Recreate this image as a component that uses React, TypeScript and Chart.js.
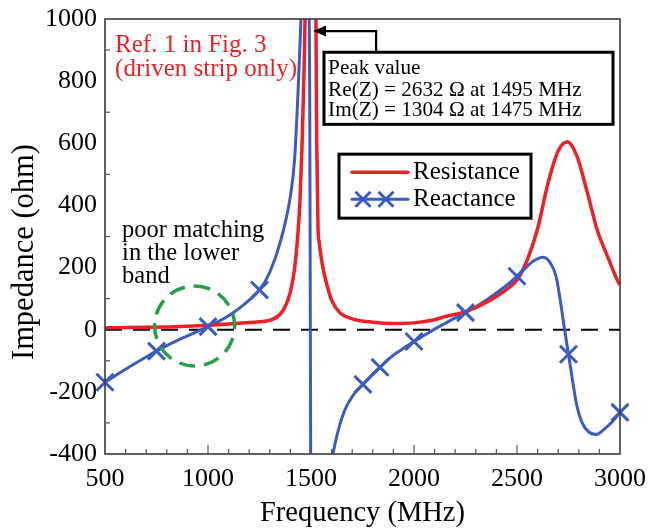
import React, { useEffect, useRef } from 'react';
import { Chart, registerables } from 'chart.js';

Chart.register(...registerables);

const FONT = '"Liberation Serif", "Times New Roman", serif';
Chart.defaults.font.family = FONT;
const RED = '#ee1f26';
const BLUE = '#3a5cc0';
const GREEN = '#26a048';

// Axis ticks
const xTickValues = [500, 1000, 1500, 2000, 2500, 3000];
const yTickValues = [-400, -200, 0, 200, 400, 600, 800, 1000];

// Resistance (red)
const resFreq = [500, 600, 700, 800, 900, 1000, 1100, 1200, 1250, 1300, 1350, 1375, 1400, 1420, 1437, 1447, 1456, 1463, 1471, 1483, 1495, 1508, 1518, 1524, 1528, 1534, 1540, 1555, 1575, 1600, 1640, 1700, 1800, 1900, 2000, 2100, 2150, 2250, 2350, 2450, 2500, 2550, 2600, 2650, 2700, 2745, 2790, 2840, 2890, 2940, 2990, 3000];
const resVal = [6, 7, 8, 9, 11, 14, 18, 23, 26, 30, 50, 75, 122, 195, 313, 421, 582, 750, 1000, 1800, 2632, 1900, 1300, 1000, 600, 330, 280, 210, 150, 95, 55, 35, 24, 20, 22, 32, 42, 58, 88, 130, 160, 225, 325, 470, 575, 605, 560, 445, 320, 235, 155, 145];

// Reactance (blue) curve
const reaFreq = [500, 550, 600, 650, 700, 750, 800, 850, 900, 950, 1000, 1050, 1100, 1150, 1200, 1250, 1300, 1350, 1400, 1420, 1437, 1447, 1455, 1475, 1488, 1494, 1498, 1502, 1515, 1540, 1570, 1600, 1630, 1660, 1700, 1752, 1800, 1835, 1900, 1950, 2000, 2050, 2100, 2150, 2200, 2250, 2300, 2350, 2400, 2450, 2500, 2550, 2590, 2625, 2660, 2690, 2710, 2730, 2750, 2770, 2790, 2815, 2850, 2885, 2920, 2960, 3000];
const reaVal = [-169, -148, -127, -107, -88, -69, -51, -35, -20, -5, 10, 26, 45, 68, 95, 128, 185, 280, 430, 545, 764, 925, 1060, 1304, 1150, 700, -300, -1500, -1350, -950, -640, -430, -330, -265, -215, -176, -143, -121, -82, -60, -38, -18, 2, 20, 38, 55, 74, 95, 118, 143, 172, 205, 225, 233, 217, 170, 95, 5, -79, -165, -243, -298, -330, -337, -322, -298, -266];

// Reactance markers
const markerFreq = [500, 750, 1000, 1250, 1752, 1835, 2000, 2250, 2500, 2750, 3000];
const markerVal = [-169, -69, 10, 128, -176, -121, -38, 55, 172, -79, -266];

// Zero reference line
const zeroFreq = [500, 3000];
const zeroVal = [0, 0];

const xTitle = 'Frequency (MHz)';
const yTitle = 'Impedance (ohm)';
const refText = ['Ref. 1 in Fig. 3', '(driven strip only)'];
const peakText = ['Peak value', 'Re(Z) = 2632 \u03A9 at 1495 MHz', 'Im(Z) = 1304 \u03A9 at 1475 MHz'];
const noteText = ['poor matching', 'in the lower', 'band'];

const toXY = (xs: number[], ys: number[]) => xs.map((x, i) => ({ x, y: ys[i] }));

function drawX(ctx: CanvasRenderingContext2D, x: number, y: number, r: number) {
  ctx.beginPath();
  ctx.moveTo(x - r, y - r);
  ctx.lineTo(x + r, y + r);
  ctx.moveTo(x - r, y + r);
  ctx.lineTo(x + r, y - r);
  ctx.stroke();
}

const overlayPlugin = {
  id: 'overlay',
  afterDatasetsDraw(chart: any) {
    const { ctx, chartArea: a, scales } = chart;
    const xs = scales.x;
    const ys = scales.y;
    const px = (f: number) => xs.getPixelForValue(f);
    const py = (v: number) => ys.getPixelForValue(v);
    ctx.save();

    // frame
    ctx.strokeStyle = '#3a3a3a';
    ctx.lineWidth = 1.6;
    ctx.strokeRect(a.left, a.top, a.right - a.left, a.bottom - a.top);

    // inner ticks
    ctx.lineWidth = 1.2;
    ctx.strokeStyle = '#555';
    for (let f = 600; f < 3000; f += 100) {
      const len = f % 500 === 0 ? 9 : 5;
      const x = px(f);
      ctx.beginPath();
      ctx.moveTo(x, a.bottom);
      ctx.lineTo(x, a.bottom - len);
      ctx.stroke();
    }
    for (let v = -300; v < 1000; v += 200) {
      const y = py(v);
      ctx.beginPath();
      ctx.moveTo(a.left, y);
      ctx.lineTo(a.left + 5, y);
      ctx.stroke();
    }

    // y axis title
    ctx.save();
    ctx.fillStyle = '#000';
    ctx.font = `30.5px ${FONT}`;
    ctx.textAlign = 'center';
    ctx.textBaseline = 'middle';
    ctx.translate(25, py(250));
    ctx.rotate(-Math.PI / 2);
    ctx.fillText(yTitle, 0, 0);
    ctx.restore();

    // green dashed circle
    ctx.strokeStyle = GREEN;
    ctx.lineWidth = 3.5;
    ctx.setLineDash([16, 9]);
    ctx.beginPath();
    ctx.arc(px(935), py(12), 40, -Math.PI / 2, Math.PI * 1.5);
    ctx.stroke();
    ctx.setLineDash([]);

    // red label
    ctx.fillStyle = RED;
    ctx.font = `25px ${FONT}`;
    ctx.textBaseline = 'alphabetic';
    ctx.textAlign = 'left';
    ctx.fillText(refText[0], px(549), py(893));
    ctx.fillText(refText[1], px(549), py(816));

    // note
    ctx.fillStyle = '#000';
    ctx.font = `24.5px ${FONT}`;
    ctx.fillText(noteText[0], px(583), py(298));
    ctx.fillText(noteText[1], px(583), py(224));
    ctx.fillText(noteText[2], px(583), py(150));

    // peak box
    const bx1 = px(1563), bx2 = px(2966), by1 = py(893), by2 = py(661);
    ctx.fillStyle = '#fff';
    ctx.fillRect(bx1, by1, bx2 - bx1, by2 - by1);
    ctx.strokeStyle = '#000';
    ctx.lineWidth = 3;
    ctx.strokeRect(bx1, by1, bx2 - bx1, by2 - by1);
    ctx.fillStyle = '#000';
    ctx.font = `21.2px ${FONT}`;
    ctx.fillText(peakText[0], px(1583), py(822));
    ctx.fillText(peakText[1], px(1583), py(751));
    ctx.fillText(peakText[2], px(1583), py(687));

    // arrow
    const ax = px(1816), ay = py(961), tipX = px(1510);
    ctx.lineWidth = 2.2;
    ctx.beginPath();
    ctx.moveTo(ax, by1);
    ctx.lineTo(ax, ay);
    ctx.lineTo(tipX + 8, ay);
    ctx.stroke();
    ctx.beginPath();
    ctx.moveTo(tipX, ay);
    ctx.lineTo(tipX + 13, ay - 5.5);
    ctx.lineTo(tipX + 13, ay + 5.5);
    ctx.closePath();
    ctx.fill();

    // legend
    const lx1 = px(1636), lx2 = px(2568), ly1 = py(565), ly2 = py(359);
    ctx.fillStyle = '#fff';
    ctx.fillRect(lx1, ly1, lx2 - lx1, ly2 - ly1);
    ctx.strokeStyle = '#000';
    ctx.lineWidth = 3;
    ctx.strokeRect(lx1, ly1, lx2 - lx1, ly2 - ly1);
    const ds = chart.data.datasets;
    const r1 = py(507), r2 = py(420);
    const sx1 = px(1699), sx2 = px(1971);
    ctx.lineCap = 'round';
    ctx.strokeStyle = ds[1].borderColor;
    ctx.lineWidth = 3.5;
    ctx.beginPath();
    ctx.moveTo(sx1, r1);
    ctx.lineTo(sx2, r1);
    ctx.stroke();
    ctx.strokeStyle = ds[2].borderColor;
    ctx.lineWidth = 3;
    ctx.beginPath();
    ctx.moveTo(sx1, r2);
    ctx.lineTo(sx2, r2);
    ctx.stroke();
    ctx.lineCap = 'butt';
    drawX(ctx, sx1 + 11, r2, 7.5);
    drawX(ctx, sx1 + 34, r2, 7.5);
    ctx.fillStyle = '#000';
    ctx.font = `25px ${FONT}`;
    ctx.textBaseline = 'middle';
    ctx.fillText(ds[1].label, px(1995), r1);
    ctx.fillText(ds[2].label, px(1995), r2);

    ctx.restore();
  },
};

export default function App() {
  const ref = useRef<HTMLCanvasElement | null>(null);
  useEffect(() => {
    if (!ref.current) return;
    const tickFont = { family: FONT, size: 26 };
    const chart = new Chart(ref.current, {
      type: 'line',
      data: {
        datasets: [
          {
            label: 'Reactance markers',
            data: toXY(markerFreq, markerVal),
            showLine: false,
            pointStyle: 'crossRot',
            pointRadius: 12,
            pointBorderWidth: 3,
            borderColor: BLUE,
            backgroundColor: BLUE,
            clip: false,
          },
          {
            label: 'Resistance',
            data: toXY(resFreq, resVal),
            borderColor: RED,
            borderWidth: 3.5,
            pointRadius: 0,
            cubicInterpolationMode: 'monotone',
          },
          {
            label: 'Reactance',
            data: toXY(reaFreq, reaVal),
            borderColor: BLUE,
            borderWidth: 3,
            pointRadius: 0,
            cubicInterpolationMode: 'monotone',
          },
          {
            label: 'zero',
            data: toXY(zeroFreq, zeroVal),
            borderColor: '#000',
            borderWidth: 2,
            borderDash: [17, 11],
            pointRadius: 0,
          },
        ],
      } as any,
      options: {
        responsive: false,
        animation: false,
        events: [],
        layout: { padding: { left: 0, right: 28, top: 19, bottom: 0 } },
        plugins: { legend: { display: false }, tooltip: { enabled: false } },
        scales: {
          x: {
            type: 'linear',
            min: 500,
            max: 3000,
            afterBuildTicks: (s: any) => {
              s.ticks = xTickValues.map((v) => ({ value: v }));
            },
            ticks: { font: tickFont, color: '#000', padding: 10, maxRotation: 0, autoSkip: false, callback: (v: any) => String(v) },
            grid: { display: false, drawTicks: false },
            border: { display: false },
            title: { display: true, text: xTitle, font: { family: FONT, size: 28.5 }, color: '#000', padding: { top: 0, bottom: 0 } },
            afterFit: (s: any) => {
              s.height = 77;
              s.paddingLeft = 0;
              s.paddingRight = 0;
            },
          },
          y: {
            type: 'linear',
            min: -400,
            max: 1000,
            afterBuildTicks: (s: any) => {
              s.ticks = yTickValues.map((v) => ({ value: v }));
            },
            ticks: { font: tickFont, color: '#000', padding: 8, autoSkip: false, callback: (v: any) => String(v) },
            grid: { display: false, drawTicks: false },
            border: { display: false },
            title: { display: false },
            afterFit: (s: any) => {
              s.width = 105;
              s.paddingTop = 0;
              s.paddingBottom = 0;
            },
          },
        },
      } as any,
      plugins: [overlayPlugin],
    });
    return () => chart.destroy();
  }, []);
  return (
    <div style={{ position: 'absolute', left: 0, top: 0, width: 648, height: 531, background: '#fff' }}>
      <canvas ref={ref} width={648} height={531} style={{ display: 'block' }} />
    </div>
  );
}
